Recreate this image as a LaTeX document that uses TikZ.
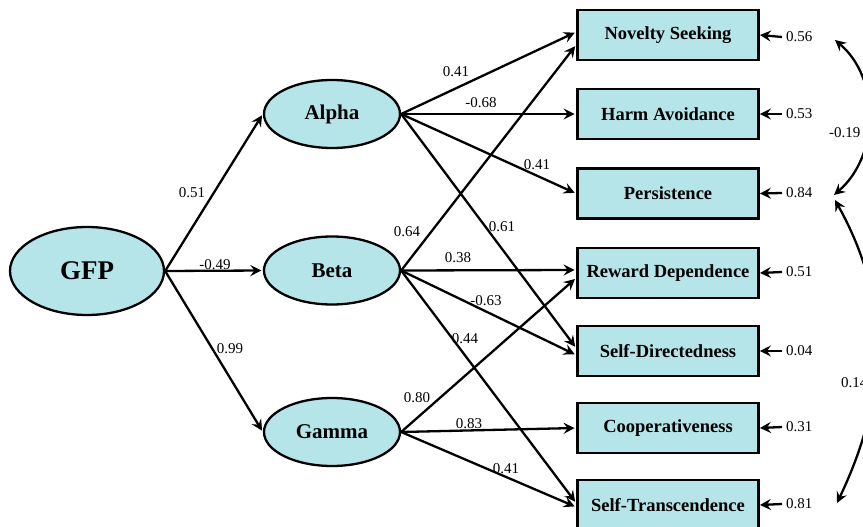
\documentclass[tikz,border=0pt]{standalone}
\usepackage{fontspec}
\setmainfont{Liberation Serif}
\usetikzlibrary{arrows.meta,shapes.geometric}
\definecolor{latentfill}{RGB}{181,229,232}
\tikzset{
  latent/.style={ellipse,draw=black,line width=2.3pt,fill=latentfill,inner sep=0pt,
    minimum width=136pt,minimum height=68pt,font=\fontsize{21}{21}\selectfont\bfseries},
  observed/.style={rectangle,draw=black,line width=2.8pt,fill=latentfill,inner sep=0pt,
    minimum width=181pt,minimum height=50pt,font=\fontsize{18.5}{18.5}\selectfont\bfseries},
  tip/.tip={Stealth[length=11pt,width=11pt,inset=4pt]},
  path/.style={line width=2.3pt,-tip,shorten >=1.5pt},
  errpath/.style={line width=2.3pt,-tip},
  corr/.style={line width=2.3pt,tip-tip},
  coef/.style={font=\fontsize{15}{15}\selectfont,inner sep=0pt},
  errlab/.style={font=\fontsize{15}{15}\selectfont,inner sep=0pt,anchor=west}
}
\begin{document}
\begin{tikzpicture}[x=1pt,y=-1pt]
\useasboundingbox (0,0) rectangle (863,527);

% latent factors
\node[latent,minimum width=154pt,minimum height=88pt,font=\fontsize{27}{27}\selectfont\bfseries] (gfp) at (87,271) {GFP};
\node[latent] (alpha) at (332,114) {Alpha};
\node[latent] (beta)  at (332,270.5) {Beta};
\node[latent] (gamma) at (332,432) {Gamma};

% observed scales
\node[observed] (ns) at (668,35)    {Novelty Seeking};
\node[observed] (ha) at (668,114)   {Harm Avoidance};
\node[observed] (pe) at (668,193.5) {Persistence};
\node[observed] (rd) at (668,273)   {Reward Dependence};
\node[observed] (sd) at (668,351)   {Self-Directedness};
\node[observed] (co) at (668,428)   {Cooperativeness};
\node[observed] (st) at (668,505)   {Self-Transcendence};

% higher-order loadings
\draw[path] (gfp.east) -- (alpha.west);
\draw[path] (gfp.east) -- (beta.west);
\draw[path] (gfp.east) -- (gamma.west);
\node[coef] (l1) at (192,193) {0.51};
\node[coef] (l2) at (215,265) {-0.49};
\node[coef] (l3) at (230,349) {0.99};

% Alpha loadings
\draw[path] (alpha.east) -- ([yshift=3pt]ns.west);
\draw[path] (alpha.east) -- (ha.west);
\draw[path] (alpha.east) -- (pe.west);
\draw[path] (alpha.east) -- ([yshift=3pt]sd.west);
\node[coef] (l4) at (456,72)  {0.41};
\node[coef] (l5) at (481,103) {-0.68};
\node[coef] (l6) at (537,165) {0.41};
\node[coef] (l7) at (502,227) {0.61};

% Beta loadings
\draw[path] (beta.east) -- ([yshift=-10pt]ns.west);
\draw[path] (beta.east) -- ([yshift=3pt]rd.west);
\draw[path] (beta.east) -- ([yshift=-4pt]sd.west);
\draw[path] (beta.east) -- ([yshift=2pt]st.west);
\node[coef] (l8)  at (407,232) {0.64};
\node[coef] (l9)  at (458,258) {0.38};
\node[coef] (l10) at (486,301) {-0.63};
\node[coef] (l11) at (465,339) {0.44};

% Gamma loadings
\draw[path] (gamma.east) -- ([yshift=-5pt]rd.west);
\draw[path] (gamma.east) -- (co.west);
\draw[path] (gamma.east) -- ([yshift=-2pt]st.west);
\node[coef] (l12) at (417,398) {0.80};
\node[coef] (l13) at (469,424) {0.83};
\node[coef] (l14) at (506,469) {0.41};

% residual variances
\node[errlab] (e1) at (786,37)  {0.56};
\node[errlab] (e2) at (786,114) {0.53};
\node[errlab] (e3) at (786,193) {0.84};
\node[errlab] (e4) at (786,272) {0.51};
\node[errlab] (e5) at (786,351) {0.04};
\node[errlab] (e6) at (786,427) {0.31};
\node[errlab] (e7) at (786,504) {0.81};
\foreach \e/\b in {e1/ns,e2/ha,e3/pe,e4/rd,e5/sd,e6/co,e7/st}
  \draw[errpath] ([xshift=-4pt]\e.west) -- (\b.east);

% residual correlations
\coordinate (c1) at (835,40);
\coordinate (c3a) at (834,195);
\coordinate (c3b) at (835,200);
\coordinate (c7) at (837,503);
\draw[corr] (c1) .. controls (880,78) and (880,155) .. (c3a);
\draw[corr] (c3b) .. controls (893,304) and (887,398) .. (c7);
\node[errlab] (r1) at (829,133) {-0.19};
\node[errlab] (r2) at (841,383) {0.14};
\end{tikzpicture}
\end{document}
